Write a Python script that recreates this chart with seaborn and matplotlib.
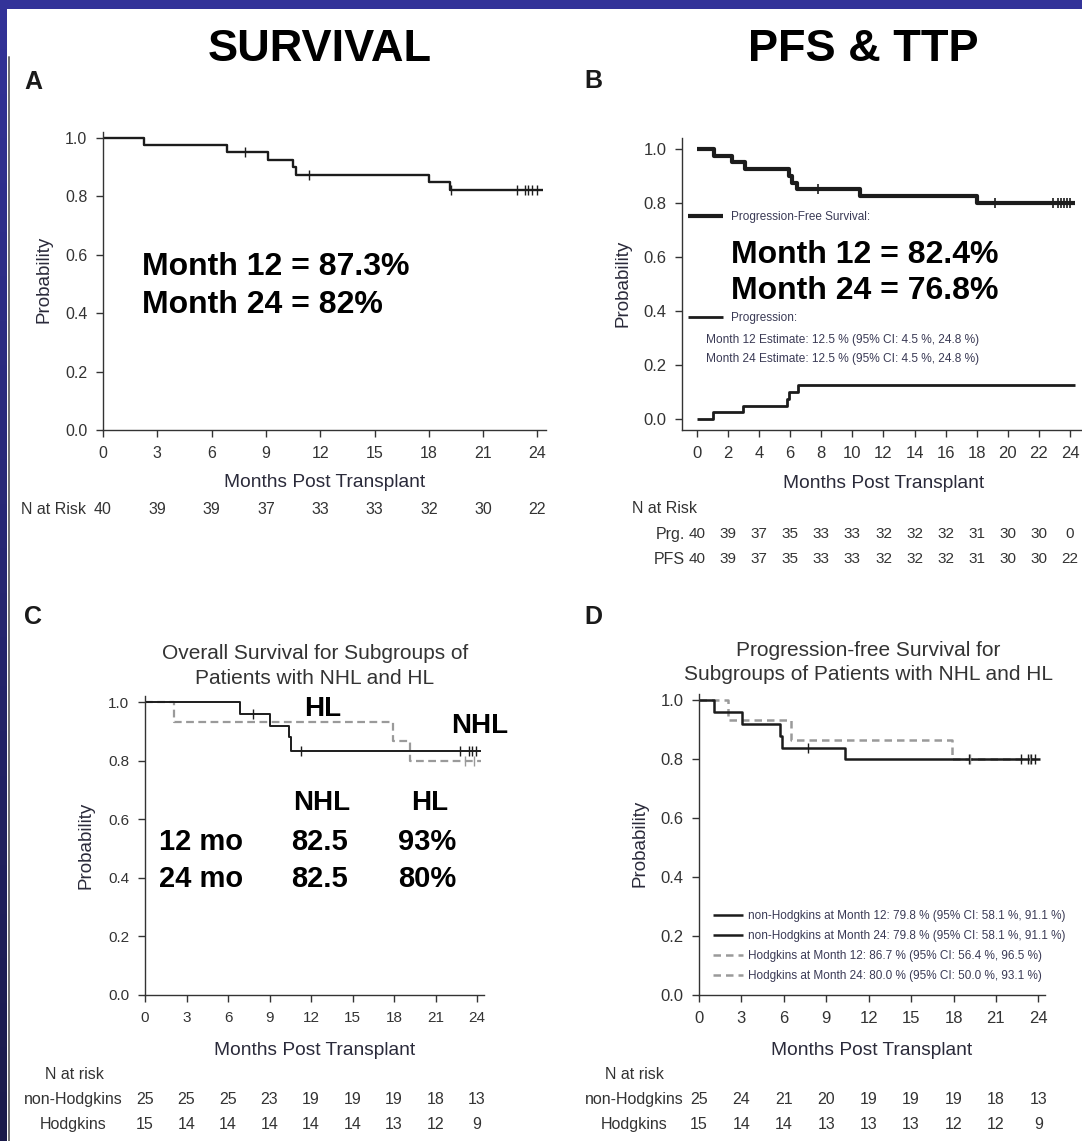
import numpy as np
import matplotlib
matplotlib.use("Agg")
import matplotlib.pyplot as plt
import matplotlib.transforms as mtransforms
from matplotlib import font_manager
from matplotlib.patches import Rectangle
from matplotlib.lines import Line2D
import seaborn as sns

# ---------------- data ----------------
# Panel A : overall survival
a_time = [0, 2.25, 6.86, 9.13, 10.5, 10.65, 18.0, 19.17, 24.3]
a_surv = [1.0, 0.975, 0.95, 0.925, 0.90, 0.873, 0.847, 0.82, 0.82]
a_cens = [7.85, 11.4, 19.2, 22.86, 23.3, 23.5, 23.7, 24.0]
a_xticks = [0, 3, 6, 9, 12, 15, 18, 21, 24]
a_risk = [40, 39, 39, 37, 33, 33, 32, 30, 22]
a_notes = ["Month 12 = 87.3%", "Month 24 = 82%"]

# Panel B : PFS and progression
b_pfs_time = [0, 1.08, 2.26, 3.07, 5.9, 6.1, 6.45, 10.5, 18.0, 24.3]
b_pfs_surv = [1.0, 0.975, 0.95, 0.925, 0.90, 0.875, 0.85, 0.825, 0.80, 0.80]
b_pfs_cens = [7.8, 19.2, 22.9, 23.2, 23.4, 23.6, 23.8, 24.0]
b_prg_time = [0, 1.03, 2.97, 5.76, 5.94, 6.52, 24.3]
b_prg_prob = [0.0, 0.025, 0.05, 0.075, 0.10, 0.125, 0.125]
b_xticks = [0, 2, 4, 6, 8, 10, 12, 14, 16, 18, 20, 22, 24]
b_risk_prg = [40, 39, 37, 35, 33, 33, 32, 32, 32, 31, 30, 30, 0]
b_risk_pfs = [40, 39, 37, 35, 33, 33, 32, 32, 32, 31, 30, 30, 22]
b_legend = ["Progression-Free Survival:", "Progression:"]
b_estimates = ["Month 12 Estimate: 12.5 % (95% CI: 4.5 %, 24.8 %)",
               "Month 24 Estimate: 12.5 % (95% CI: 4.5 %, 24.8 %)"]
b_notes = ["Month 12 = 82.4%", "Month 24 = 76.8%"]

# Panel C : OS by subgroup
c_nhl_time = [0, 6.85, 9.05, 10.4, 10.55, 24.3]
c_nhl_surv = [1.0, 0.96, 0.92, 0.88, 0.835, 0.835]
c_nhl_cens = [7.8, 11.3, 22.8, 23.4, 23.65, 23.9]
c_hl_time = [0, 2.07, 17.9, 19.15, 24.3]
c_hl_surv = [1.0, 0.933, 0.867, 0.80, 0.80]
c_hl_cens = [23.1, 23.8]
c_xticks = [0, 3, 6, 9, 12, 15, 18, 21, 24]
c_risk_nhl = [25, 25, 25, 23, 19, 19, 19, 18, 13]
c_risk_hl = [15, 14, 14, 14, 14, 14, 13, 12, 9]
c_title = "Overall Survival for Subgroups of\nPatients with NHL and HL"
c_table_rows = ["12 mo", "24 mo"]
c_table_nhl = ["82.5", "82.5"]
c_table_hl = ["93%", "80%"]

# Panel D : PFS by subgroup
d_nhl_time = [0, 1.04, 3.07, 5.7, 5.9, 10.35, 24.1]
d_nhl_surv = [1.0, 0.96, 0.92, 0.88, 0.84, 0.80, 0.80]
d_nhl_cens = [7.7, 19.1, 22.8, 23.3, 23.5, 23.75]
d_hl_time = [0, 2.05, 6.53, 17.9, 24.1]
d_hl_surv = [1.0, 0.933, 0.867, 0.80, 0.80]
d_hl_cens = [19.2, 23.4]
d_xticks = [0, 3, 6, 9, 12, 15, 18, 21, 24]
d_risk_nhl = [25, 24, 21, 20, 19, 19, 19, 18, 13]
d_risk_hl = [15, 14, 14, 13, 13, 13, 12, 12, 9]
d_title = "Progression-free Survival for\nSubgroups of Patients with NHL and HL"
d_legend = ["non-Hodgkins at Month 12: 79.8 % (95% CI: 58.1 %, 91.1 %)",
            "non-Hodgkins at Month 24: 79.8 % (95% CI: 58.1 %, 91.1 %)",
            "Hodgkins at Month 12: 86.7 % (95% CI: 56.4 %, 96.5 %)",
            "Hodgkins at Month 24: 80.0 % (95% CI: 50.0 %, 93.1 %)"]

y_ticks = [0.0, 0.2, 0.4, 0.6, 0.8, 1.0]

# ---------------- style ----------------
sns.set_style("ticks")
names = {f.name for f in font_manager.fontManager.ttflist}
SANS = "Liberation Sans" if "Liberation Sans" in names else "DejaVu Sans"
NARROW = "Liberation Sans Narrow" if "Liberation Sans Narrow" in names else None
plt.rcParams["font.family"] = [SANS, "DejaVu Sans"]
XL_FAMILY = [NARROW, SANS] if NARROW else [SANS]
XL_FS = 16.5 if NARROW else 13.8

W, H, DPI = 1082, 1141, 100
fig = plt.figure(figsize=(W / DPI, H / DPI), dpi=DPI)
fig.patch.set_facecolor("white")

INK = "#1c1c1c"
GREY = "#333333"
LINEGREY = "#9a9a9a"
LEGTXT = "#3a3a55"


def add_ax(box):
    l, t, r, b = box
    return fig.add_axes([l / W, 1 - b / H, (r - l) / W, (b - t) / H])


def ptxt(px, pyc, s, fs, ha="left", weight="normal", color=INK, family=None,
         transform=None):
    base = pyc + 0.358 * fs * DPI / 72.0
    kw = dict(fontsize=fs, ha=ha, va="baseline", fontweight=weight, color=color)
    if family is not None:
        kw["family"] = family
    if transform is None:
        return fig.text(px / W, 1 - base / H, s, **kw)
    return fig.text(px, 1 - base / H, s, transform=transform, **kw)


def step_at(times, vals, t):
    idx = np.searchsorted(np.asarray(times), np.asarray(t), side="right") - 1
    return np.asarray(vals)[idx]


def km(ax, times, vals, cens, color, lw, ls="-", tick_s=40, tick_lw=1.0):
    sns.lineplot(x=times, y=vals, ax=ax, drawstyle="steps-post", color=color,
                 linewidth=lw, linestyle=ls, errorbar=None, sort=False,
                 legend=False)
    line = ax.lines[-1]
    line.set_solid_capstyle("butt")
    if cens:
        sns.scatterplot(x=cens, y=step_at(times, vals, cens), ax=ax,
                        marker="|", s=tick_s, color=color, linewidth=tick_lw,
                        legend=False, zorder=3)
    return line


def setup(ax, box, xlim, ylim, xticks, tick_fs, xl_center, xl_base, yl_center):
    l, t, r, b = box
    ax.set_xlim(*xlim)
    ax.set_ylim(*ylim)
    ax.set_xticks(xticks)
    ax.set_xticklabels([str(v) for v in xticks])
    ax.set_yticks(y_ticks)
    ax.set_yticklabels([f"{v:.1f}" for v in y_ticks])
    sns.despine(ax=ax)
    for sp in ("left", "bottom"):
        ax.spines[sp].set_color(GREY)
        ax.spines[sp].set_linewidth(1.0)
    ax.tick_params(direction="out", length=4.8, width=1.0, color=GREY,
                   labelsize=tick_fs, labelcolor=GREY, pad=6.5)
    ax.set_facecolor("none")
    ax.set_xlabel("Months Post Transplant", fontsize=XL_FS, family=XL_FAMILY,
                  color="#2a2a3a", va="baseline")
    ax.xaxis.set_label_coords((xl_center - l) / (r - l), (b - xl_base) / (b - t))
    ax.set_ylabel("Probability", fontsize=13.5, color="#2a2a3a", va="center")
    ax.yaxis.set_label_coords((yl_center[0] - l) / (r - l),
                              (b - yl_center[1]) / (b - t))


def risk_row(ax, xticks, values, pyc, fs=11.5):
    trans = mtransforms.blended_transform_factory(ax.transData, fig.transFigure)
    for x, v in zip(xticks, values):
        ptxt(x, pyc, str(v), fs, ha="center", color=GREY, transform=trans)


# ---------------- frame decoration ----------------
band = fig.add_axes([0, 0, 7 / W, 1])
top_c = np.array([51, 51, 153]) / 255.0
bot_c = np.array([26, 26, 74]) / 255.0
grad = np.linspace(0, 1, 256)[:, None, None] * (bot_c - top_c) + top_c
band.imshow(grad, aspect="auto", extent=[0, 1, 0, 1])
band.axis("off")
fig.add_artist(Rectangle((0, 1 - 9 / H), 1, 9 / H, transform=fig.transFigure,
                         facecolor="#333399", edgecolor="none"))
fig.add_artist(Line2D([9 / W, 9 / W], [0, 1 - 57 / H], transform=fig.transFigure,
                      color="#707070", linewidth=1.4))

# headings
ptxt(320, 45, "SURVIVAL", 32.5, ha="center", weight="bold", color="black")
ptxt(863, 45, "PFS & TTP", 32.5, ha="center", weight="bold", color="black")
for lab, (px, py) in zip("ABCD", [(24, 80), (584, 79), (24, 615), (584, 615)]):
    ptxt(px, py, lab, 18, weight="bold", color="#1a1a1a")

# ---------------- Panel A ----------------
boxA = (103, 132, 546, 430)
axA = add_ax(boxA)
km(axA, a_time, a_surv, a_cens, INK, 1.7, tick_s=50)
setup(axA, boxA, (0, 24.47), (0, 1.0195), a_xticks, 11.5, 325, 487, (44, 279))
ptxt(21, 508, "N at Risk", 11.5, color=GREY)
risk_row(axA, a_xticks, a_risk, 508)
for i, s in enumerate(a_notes):
    ptxt(142, 264 + 38 * i, s, 23, weight="bold", color="black")

# ---------------- Panel B ----------------
boxB = (682, 138, 1081, 430)
axB = add_ax(boxB)
pfs_line = km(axB, b_pfs_time, b_pfs_surv, b_pfs_cens, INK, 3.0, tick_s=50,
              tick_lw=1.2)
prg_line = km(axB, b_prg_time, b_prg_prob, [], INK, 2.0)
setup(axB, boxB, (-0.965, 24.71), (-0.0407, 1.0407), b_xticks, 12, 884, 488,
      (623, 283))
ptxt(632, 507, "N at Risk", 11.5, color=GREY)
ptxt(685, 533, "Prg.", 11.5, ha="right", color=GREY)
ptxt(685, 558, "PFS", 11.5, ha="right", color=GREY)
risk_row(axB, b_xticks, b_risk_prg, 533, fs=11)
risk_row(axB, b_xticks, b_risk_pfs, 558, fs=11)
leg_kw = dict(loc="center left", bbox_transform=fig.transFigure, frameon=False,
              fontsize=8.5, handlelength=3.0, handletextpad=0.6, borderpad=0,
              borderaxespad=0, labelcolor=LEGTXT)
leg1 = axB.legend(handles=[pfs_line], labels=[b_legend[0]],
                  bbox_to_anchor=(688 / W, 1 - 217 / H), **leg_kw)
axB.add_artist(leg1)
axB.legend(handles=[prg_line], labels=[b_legend[1]],
           bbox_to_anchor=(688 / W, 1 - 318 / H), **leg_kw)
for i, s in enumerate(b_estimates):
    ptxt(706, 339 + 19 * i, s, 8.6, color=LEGTXT)
for i, s in enumerate(b_notes):
    ptxt(731, 252 + 36 * i, s, 23, weight="bold", color="black")

# ---------------- Panel C ----------------
boxC = (145, 696, 484, 995)
axC = add_ax(boxC)
km(axC, c_hl_time, c_hl_surv, c_hl_cens, LINEGREY, 1.6, ls=(0, (3.5, 2.0)),
   tick_s=45)
km(axC, c_nhl_time, c_nhl_surv, c_nhl_cens, INK, 1.4, tick_s=45)
setup(axC, boxC, (0, 24.5), (0, 1.0215), c_xticks, 11, 315, 1055, (86, 845))
for i, s in enumerate(c_title.split("\n")):
    ptxt(315, 652 + 25 * i, s, 15, ha="center", color=GREY)
ptxt(323, 706, "HL", 20, ha="center", weight="bold", color="black")
ptxt(480, 723, "NHL", 20, ha="center", weight="bold", color="black")
ptxt(322, 800, "NHL", 20, ha="center", weight="bold", color="black")
ptxt(430, 800, "HL", 20, ha="center", weight="bold", color="black")
for i in range(2):
    yc = 840 + 37 * i
    ptxt(159, yc, c_table_rows[i], 21, weight="bold", color="black")
    ptxt(291, yc, c_table_nhl[i], 21, weight="bold", color="black")
    ptxt(398, yc, c_table_hl[i], 21, weight="bold", color="black")
ptxt(74, 1073, "N at risk", 11.5, ha="center", color=GREY)
ptxt(73, 1098, "non-Hodgkins", 11.5, ha="center", color=GREY)
ptxt(73, 1123, "Hodgkins", 11.5, ha="center", color=GREY)
risk_row(axC, c_xticks, c_risk_nhl, 1098)
risk_row(axC, c_xticks, c_risk_hl, 1123)

# ---------------- Panel D ----------------
boxD = (699, 694, 1045, 995)
axD = add_ax(boxD)
d_hl_line = km(axD, d_hl_time, d_hl_surv, d_hl_cens, LINEGREY, 1.8,
               ls=(0, (3.0, 2.0)), tick_s=45)
d_nhl_line = km(axD, d_nhl_time, d_nhl_surv, d_nhl_cens, INK, 1.8, tick_s=45)
setup(axD, boxD, (0, 24.47), (0, 1.022), d_xticks, 12, 872, 1055, (640, 843))
for i, s in enumerate(d_title.split("\n")):
    ptxt(868, 649 + 24 * i, s, 15, ha="center", color=GREY)
axD.legend(handles=[d_nhl_line, d_nhl_line, d_hl_line, d_hl_line],
           labels=d_legend, loc="center left",
           bbox_to_anchor=(713 / W, 1 - 946 / H),
           bbox_transform=fig.transFigure, frameon=False, fontsize=8.5,
           handlelength=2.55, handletextpad=0.42, borderpad=0, borderaxespad=0,
           labelspacing=0.68, labelcolor=LEGTXT)
ptxt(634, 1073, "N at risk", 11.5, ha="center", color=GREY)
ptxt(634, 1098, "non-Hodgkins", 11.5, ha="center", color=GREY)
ptxt(634, 1123, "Hodgkins", 11.5, ha="center", color=GREY)
risk_row(axD, d_xticks, d_risk_nhl, 1098)
risk_row(axD, d_xticks, d_risk_hl, 1123)

fig.savefig("out.png", dpi=DPI)
